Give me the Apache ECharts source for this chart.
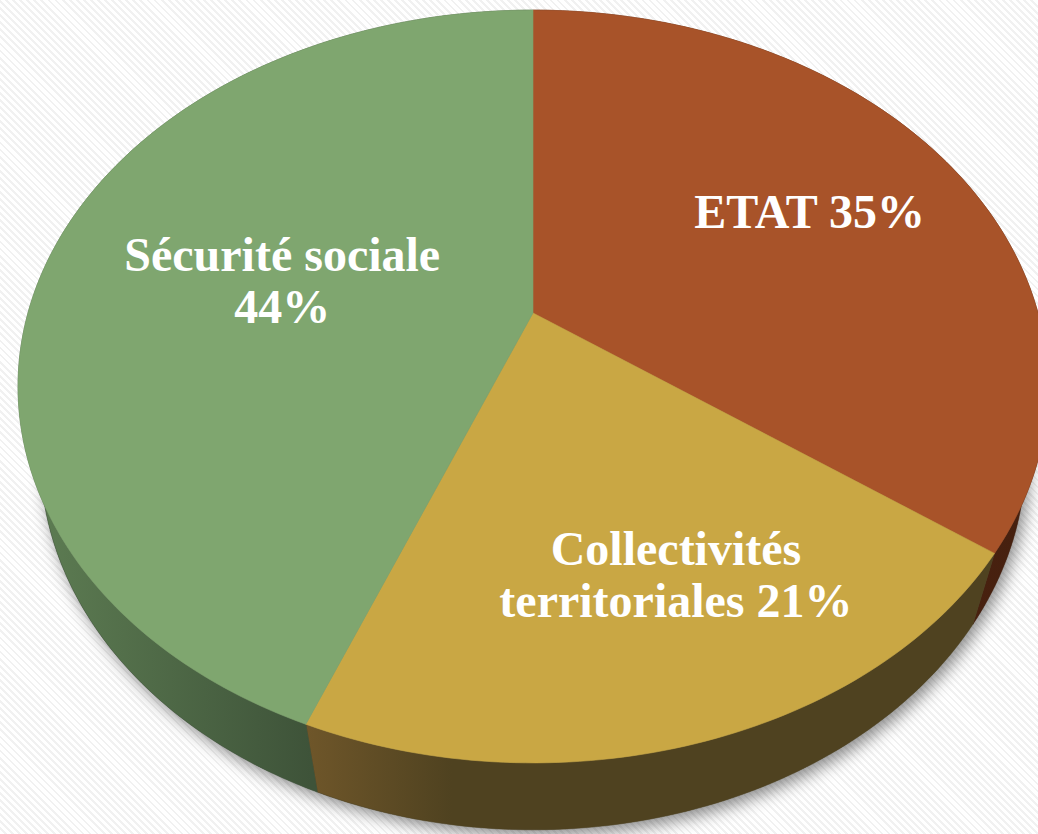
<!DOCTYPE html>
<html>
<head>
<meta charset="utf-8">
<script src="https://cdn.jsdelivr.net/npm/echarts@6/dist/echarts.min.js"></script>
<style>
html, body { margin: 0; padding: 0; }
body { background: repeating-linear-gradient(45deg, #ffffff 0px, #ffffff 3px, #f1f1f1 3px, #f1f1f1 5px); }
#chart { width: 1038px; height: 834px; }
</style>
</head>
<body>
<div id="chart"></div>
<script>
// ---- data ----
const categories = ['ETAT', 'Collectivités territoriales', 'Sécurité sociale'];
const values = [35, 21, 44];
const labelNames = ['ETAT', 'Collectivités\nterritoriales', 'Sécurité sociale'];
const labelSeparators = [' ', ' ', '\n'];

// ---- styles / layout ----
const topColors = ['#A85329', '#C9A744', '#7FA66F'];
const wallStyles = [
  { from: 0.6, to: 1.0, c0: '#4E2210', c1: '#45200F' },
  { from: -0.46, to: -0.16, c0: '#70572A', c1: '#4F4220' },
  { from: -1.02, to: -0.44, c0: '#5F7F54', c1: '#3E5339' }
];
const labelLayout = [
  { r: 0.65, shift: 0 },
  { r: 0.68, shift: -5.2 },
  { r: 0.514, shift: -0.4 }
];
const VIEW = { elevationDeg: 45.8, distance: 3.57, depth: 0.217 };

const SIN = Math.sin(VIEW.elevationDeg * Math.PI / 180);
const COS = Math.cos(VIEW.elevationDeg * Math.PI / 180);
const L = VIEW.distance, H = VIEW.depth;
function proj(x, y, z) {
  const d = L + y * COS - z * SIN;
  return [x * L / d, -(y * SIN + z * COS) * L / d];
}

const total = values.reduce((a, b) => a + b, 0);
const cum = [];
let acc = 0;
values.forEach(v => { cum.push(acc); acc += v; });

function renderItem(params, api) {
  const i = params.dataIndex;
  const v = api.value(1);
  const a0 = cum[i] / total * 2 * Math.PI;
  const a1 = (cum[i] + v) / total * 2 * Math.PI;
  const n = Math.max(12, Math.ceil((a1 - a0) / (Math.PI / 180)));
  const top = [], bot = [];
  for (let k = 0; k <= n; k++) {
    const t = a0 + (a1 - a0) * k / n;
    top.push(api.coord(proj(Math.sin(t), Math.cos(t), 0)));
    bot.push(api.coord(proj(Math.sin(t), Math.cos(t), -H)));
  }
  const center = api.coord(proj(0, 0, 0));
  const children = [];
  if (i === 0) {
    const disk = [];
    for (let k = 0; k < 360; k++) {
      const t = k * Math.PI / 180;
      disk.push(api.coord(proj(Math.sin(t), Math.cos(t), -H)));
    }
    children.push({
      type: 'polygon', z2: 0, silent: true,
      shape: { points: disk },
      style: { fill: '#666', shadowBlur: 16, shadowColor: 'rgba(0,0,0,0.45)', shadowOffsetX: 4, shadowOffsetY: 6 }
    });
  }
  const ws = wallStyles[i];
  const gx0 = api.coord([ws.from, 0])[0], gx1 = api.coord([ws.to, 0])[0];
  children.push({
    type: 'polygon', z2: 1,
    shape: { points: top.concat(bot.slice().reverse()) },
    style: {
      fill: new echarts.graphic.LinearGradient(gx0, 0, gx1, 0,
        [{ offset: 0, color: ws.c0 }, { offset: 1, color: ws.c1 }], true),
      stroke: ws.c1, lineWidth: 0.5
    }
  });
  children.push({
    type: 'polygon', z2: 5,
    shape: { points: [center].concat(top) },
    style: { fill: topColors[i], stroke: topColors[i], lineWidth: 0.6 }
  });
  const lay = labelLayout[i];
  const am = (a0 + a1) / 2 + lay.shift * Math.PI / 180;
  const lp = api.coord(proj(lay.r * Math.sin(am), lay.r * Math.cos(am), 0));
  children.push({
    type: 'text', z2: 10, x: lp[0], y: lp[1],
    style: {
      text: labelNames[i] + labelSeparators[i] + values[i] + '%',
      fill: '#ffffff',
      fontFamily: '"Liberation Serif", "DejaVu Serif", serif',
      fontWeight: 'bold',
      fontSize: 48,
      lineHeight: 52,
      align: 'center',
      verticalAlign: 'middle'
    }
  });
  return { type: 'group', children: children };
}

const chart = echarts.init(document.getElementById('chart'), null, { renderer: 'svg' });
chart.setOption({
  animation: false,
  backgroundColor: 'transparent',
  grid: { left: 0, right: 0, top: 0, bottom: 0 },
  xAxis: { type: 'value', min: -1.0554, max: 1.0, show: false },
  yAxis: { type: 'value', min: -0.6198, max: 1.0317, inverse: true, show: false },
  series: [{
    type: 'custom',
    name: 'Répartition',
    clip: false,
    renderItem: renderItem,
    data: categories.map((c, i) => ({ name: c, value: [i, values[i]] }))
  }]
});
</script>
</body>
</html>
